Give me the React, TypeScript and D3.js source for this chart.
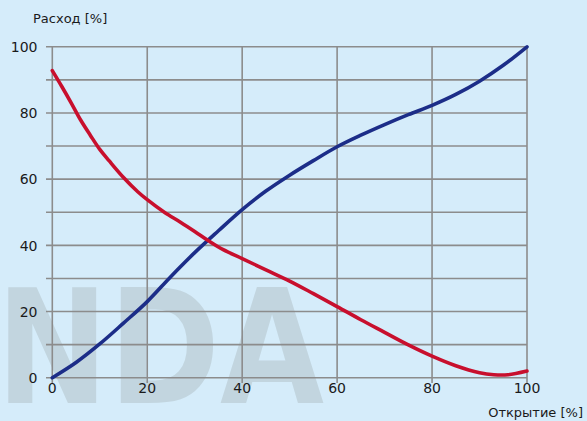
import * as d3 from 'd3';

const openingRed = [0, 2, 4, 6, 8, 10, 12, 15, 18, 20, 23.6, 27, 30, 33, 36, 40, 45, 50, 55, 60, 65, 70, 75, 80, 85, 90, 93, 96, 100];
const flowRed = [92.8, 88, 83, 77.8, 73.3, 69, 65.5, 60.5, 56.2, 53.8, 50, 47, 44.2, 41.3, 38.7, 36, 32.6, 29.2, 25.4, 21.5, 17.5, 13.7, 9.9, 6.5, 3.6, 1.5, 0.9, 0.9, 2];

const openingBlue = [0, 5, 10, 15, 20, 25, 30, 35, 40, 45, 50, 55, 60, 65, 70, 75, 80, 85, 90, 95, 100];
const flowBlue = [0, 4.6, 10.2, 16.5, 23, 30.6, 37.8, 44.4, 50.8, 56.4, 61.2, 65.6, 69.8, 73.3, 76.5, 79.5, 82.3, 85.6, 89.6, 94.4, 100];

const xTicks = [0, 20, 40, 60, 80, 100];
const yTicks = [0, 20, 40, 60, 80, 100];
const yGrid = [0, 10, 20, 30, 40, 50, 60, 70, 80, 90, 100];

const W = 587;
const H = 421;
const font = '"DejaVu Sans", sans-serif';

export default function App() {
  const x = d3.scaleLinear().domain([0, 100]).range([52.3, 527]);
  const y = d3.scaleLinear().domain([0, 100]).range([377.7, 46.8]);

  const line = d3
    .line<[number, number]>()
    .x((d) => x(d[0]))
    .y((d) => y(d[1]))
    .curve(d3.curveCatmullRom.alpha(0.5));

  const red = line(openingRed.map((o, i) => [o, flowRed[i]] as [number, number]));
  const blue = line(openingBlue.map((o, i) => [o, flowBlue[i]] as [number, number]));

  return (
    <div style={{ position: 'absolute', left: 0, top: 0 }}>
      <svg width={W} height={H} viewBox={`0 0 ${W} ${H}`} style={{ display: 'block' }}>
        <rect x={0} y={0} width={W} height={H} fill="#d5ecfa" />

        {/* watermark */}
        <text
          x={-4}
          y={403}
          fontFamily={font}
          fontWeight="bold"
          fontSize={158}
          fill="#c2d5df"
          textLength={328}
          lengthAdjust="spacingAndGlyphs"
        >
          NDA
        </text>

        {/* grid */}
        {yGrid.map((v) => (
          <line key={'h' + v} x1={46} x2={x(100)} y1={y(v)} y2={y(v)} stroke="#8c8c8c" strokeWidth={1.6} />
        ))}
        {xTicks.map((v) => (
          <line key={'v' + v} x1={x(v)} x2={x(v)} y1={y(100)} y2={383} stroke="#8c8c8c" strokeWidth={1.6} />
        ))}

        {/* curves */}
        <path d={blue ?? ''} fill="none" stroke="#1c2d88" strokeWidth={3.6} strokeLinecap="round" />
        <path d={red ?? ''} fill="none" stroke="#c80f2d" strokeWidth={3.6} strokeLinecap="round" />

        {/* tick labels */}
        {yTicks.map((v) => (
          <text key={'yl' + v} x={37.5} y={y(v) + 5.2} textAnchor="end" fontFamily={font} fontSize={14} fill="#1a1a1a">
            {v}
          </text>
        ))}
        {xTicks.map((v) => (
          <text key={'xl' + v} x={x(v)} y={393} textAnchor="middle" fontFamily={font} fontSize={14} fill="#1a1a1a">
            {v}
          </text>
        ))}

        <text x={33} y={23} fontFamily={font} fontSize={13} fill="#1a1a1a">
          Расход [%]
        </text>
        <text x={583} y={417} textAnchor="end" fontFamily={font} fontSize={13} fill="#1a1a1a">
          Открытие [%]
        </text>
      </svg>
    </div>
  );
}
